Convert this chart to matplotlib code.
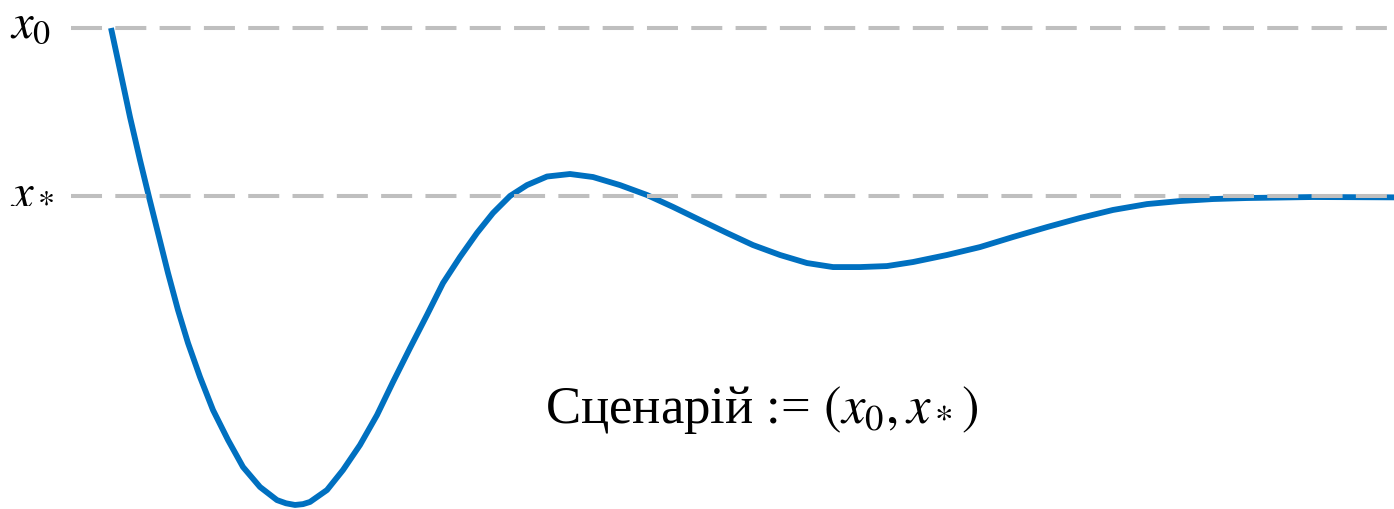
import matplotlib
matplotlib.use('Agg')
import matplotlib.pyplot as plt

# transient response of the system, settling from x0 to the equilibrium x*
# (x0 level = 1, equilibrium = 0)
t = [111, 120, 130, 140, 149, 158, 168, 178, 188, 200,
     213, 228, 243, 260, 277, 286, 295, 303, 310, 327, 343, 360,
     377, 393, 410, 427, 443, 460, 477, 493, 510, 527,
     547, 570, 593, 620, 647, 673, 700, 727, 753, 780,
     807, 833, 860, 887, 913, 947, 980, 1013, 1047, 1080,
     1113, 1147, 1180, 1213, 1247, 1313, 1394]
x = [1.0, 0.75, 0.470, 0.214, -0.006, -0.220, -0.458, -0.679, -0.875, -1.077,
     -1.274, -1.452, -1.613, -1.732, -1.810, -1.829, -1.839, -1.834, -1.821, -1.75, -1.631, -1.482,
     -1.304, -1.107, -0.905, -0.708, -0.518, -0.363, -0.220, -0.101, 0.0, 0.065,
     0.116, 0.131, 0.113, 0.065, 0.006, -0.065, -0.143, -0.220, -0.292, -0.351,
     -0.399, -0.423, -0.423, -0.417, -0.393, -0.351, -0.304, -0.244, -0.185, -0.131,
     -0.083, -0.048, -0.030, -0.018, -0.012, -0.006, -0.008]

levels = [1.0, 0.0]
level_labels = [r'$x_0$', r'$x_*$']
label_offsets = [-0.054, -0.036]

plt.rcParams['mathtext.fontset'] = 'stix'
plt.rcParams['font.family'] = ['Liberation Serif']

fig = plt.figure(figsize=(13.94, 5.09), dpi=100)
ax = fig.add_axes([0, 0, 1, 1])
ax.set_xlim(0, 1394)
ax.set_ylim(-1.863, 1.1667)
ax.axis('off')

ax.plot(t, x, color='#0070C0', linewidth=4.2, solid_capstyle='butt',
        solid_joinstyle='round', zorder=2)

# reference levels, dashed on top of the curve
for lvl, lab, off in zip(levels, level_labels, label_offsets):
    ax.plot([71, 1394], [lvl, lvl], color='#BFBFBF', linewidth=2.9,
            linestyle=(0, (7.7, 3.3)), zorder=3)
    ax.text(10, lvl + off, lab, fontsize=35, ha='left', va='baseline')

fig.text(0.391, 0.169, 'Сценарій := $(x_0, x_*)$', fontsize=38,
         ha='left', va='baseline')

fig.savefig('out.png', dpi=100)
